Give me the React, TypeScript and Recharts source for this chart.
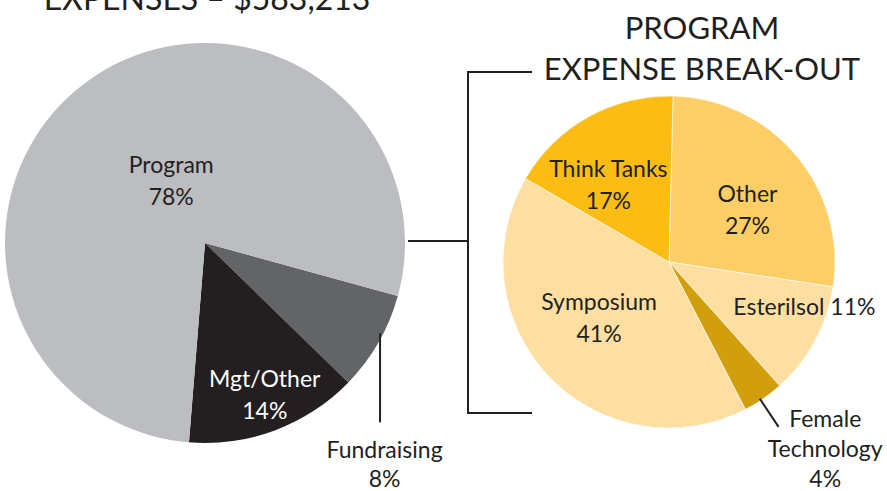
import { PieChart, Pie, Cell } from 'recharts';

// totals
const expenseNames = ['Fundraising', 'Mgt/Other', 'Program'];
const expenseValues = [8, 14, 78];
const expenseColors = ['#636466', '#231f20', '#bcbdc0'];

// program break-out
const programNames = ['Other', 'Esterilsol', 'Female Technology', 'Symposium', 'Think Tanks'];
const programValues = [27, 11, 4, 41, 17];
const programColors = ['#fdcd66', '#fedfa1', '#d29f0c', '#fedfa1', '#fbbd14'];

const expenseData = expenseNames.map((name, i) => ({ name, value: expenseValues[i] }));
const programData = programNames.map((name, i) => ({ name, value: programValues[i] }));

const FONT = "Lato, 'Noto Sans', sans-serif";
const INK = '#231f20';
const RAD = Math.PI / 180;

interface LabelCfg {
  r: number;
  dx: number;
  dy: number;
  fill?: string;
  inline?: boolean;
  leader?: 'down' | 'radial';
  lineH?: number;
}

// where each label sits, relative to the slice mid angle
const labelLayout: Record<string, LabelCfg> = {
  Program: { r: 0.39, dx: 11, dy: -6 },
  'Mgt/Other': { r: 0.75, dx: 7, dy: 4, fill: '#ffffff' },
  Fundraising: { r: 1, dx: 6, dy: 116, leader: 'down', lineH: 29 },
  Other: { r: 0.57, dx: 6, dy: 1 },
  Esterilsol: { r: 0.9, dx: 4, dy: -18, inline: true },
  'Female Technology': { r: 1, dx: 62, dy: 28, leader: 'radial', lineH: 30 },
  Symposium: { r: 0.54, dx: -5, dy: -14 },
  'Think Tanks': { r: 0.6, dx: -12, dy: 2 },
};

const polar = (cx: number, cy: number, r: number, angle: number) => ({
  x: cx + r * Math.cos(-angle * RAD),
  y: cy + r * Math.sin(-angle * RAD),
});

const renderLabel = (props: any) => {
  const { cx, cy, midAngle, outerRadius, value } = props;
  const name: string = props.name ?? props.payload?.name;
  const cfg = labelLayout[name];
  if (!cfg) return null;
  const p = polar(cx, cy, outerRadius * cfg.r, midAngle);
  const x = p.x + cfg.dx;
  const y = p.y + cfg.dy;
  const lineH = cfg.lineH ?? 32;
  let lines: string[];
  if (cfg.inline) lines = [`${name} ${value}%`];
  else if (cfg.leader === 'radial') lines = [...name.split(' '), `${value}%`];
  else lines = [name, `${value}%`];

  let leader = null;
  if (cfg.leader === 'down') {
    leader = <line x1={p.x + 1.5} y1={p.y - 9} x2={p.x + 1.5} y2={p.y + 80} stroke={INK} strokeWidth={2} />;
  } else if (cfg.leader === 'radial') {
    const a = polar(cx, cy, outerRadius - 2, midAngle - 1);
    const b = polar(cx, cy, outerRadius + 32, midAngle - 1);
    leader = <line x1={a.x} y1={a.y} x2={b.x} y2={b.y} stroke={INK} strokeWidth={2} />;
  }

  return (
    <g>
      {leader}
      <text x={x} y={y} textAnchor="middle" fill={cfg.fill ?? INK} fontFamily={FONT} fontSize={23}>
        {lines.map((l, i) => (
          <tspan key={l} x={x} dy={i === 0 ? 0 : lineH}>
            {l}
          </tspan>
        ))}
      </text>
    </g>
  );
};

const App = () => {
  return (
    <div style={{ position: 'absolute', left: 0, top: 0, width: 887, height: 491, background: '#fff', overflow: 'hidden' }}>
      <PieChart width={887} height={491} margin={{ top: 0, right: 0, bottom: 0, left: 0 }}>
        <Pie
          data={expenseData}
          dataKey="value"
          nameKey="name"
          cx={205}
          cy={243}
          outerRadius={200}
          startAngle={-15.4}
          endAngle={-375.4}
          stroke="none"
          label={renderLabel}
          labelLine={false}
          isAnimationActive={false}
        >
          {expenseData.map((d, i) => (
            <Cell key={d.name} fill={expenseColors[i]} />
          ))}
        </Pie>
        <Pie
          data={programData}
          dataKey="value"
          nameKey="name"
          cx={669}
          cy={262}
          outerRadius={166}
          startAngle={88.6}
          endAngle={-271.4}
          stroke="#fff"
          strokeWidth={0.6}
          label={renderLabel}
          labelLine={false}
          isAnimationActive={false}
        >
          {programData.map((d, i) => (
            <Cell key={d.name} fill={programColors[i]} />
          ))}
        </Pie>
      </PieChart>
      {/* titles and bracket; the left title is clipped by the top edge as in the original */}
      <svg width={887} height={491} style={{ position: 'absolute', left: 0, top: 0, pointerEvents: 'none' }}>
        <text x={207} y={10} textAnchor="middle" fill={INK} fontFamily={FONT} fontSize={32}>
          EXPENSES – $583,213
        </text>
        <text x={702} y={39} textAnchor="middle" fill={INK} fontFamily={FONT} fontSize={31}>
          PROGRAM
        </text>
        <text x={702} y={80} textAnchor="middle" fill={INK} fontFamily={FONT} fontSize={31}>
          EXPENSE BREAK-OUT
        </text>
        <polyline points="408,241 468,241" fill="none" stroke={INK} strokeWidth={2} />
        <polyline points="532,72 468,72 468,413 532,413" fill="none" stroke={INK} strokeWidth={2} />
      </svg>
    </div>
  );
};

export default App;
